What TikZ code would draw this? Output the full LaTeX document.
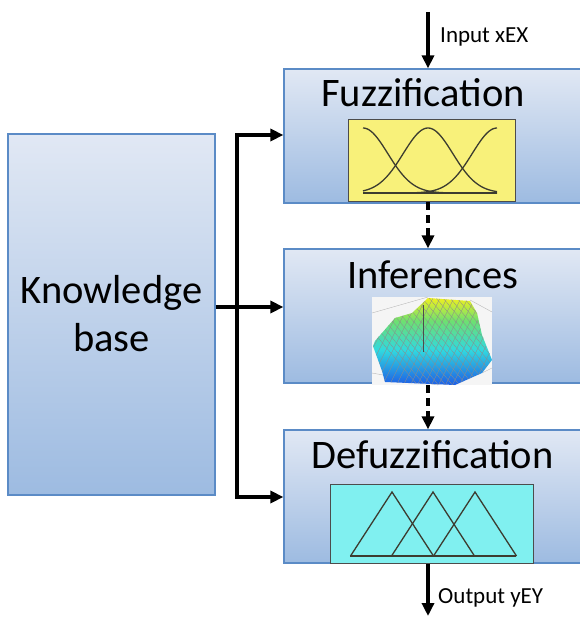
\documentclass[tikz,border=0pt]{standalone}
\usepackage{fontspec}
\setmainfont{Carlito}
\usetikzlibrary{arrows.meta,calc}

\definecolor{boxtop}{HTML}{E1E8F4}
\definecolor{boxbot}{HTML}{9DBBE1}
\definecolor{boxline}{HTML}{5B8BC6}
\definecolor{mfyellow}{HTML}{F8F17A}
\definecolor{mfcyan}{HTML}{80F0F0}
\definecolor{mfline}{HTML}{3C3C30}
\definecolor{sfyellow}{HTML}{EEF020}
\definecolor{sfgreen}{HTML}{6EE070}
\definecolor{sfcyan}{HTML}{30D8E0}
\definecolor{sfblue}{HTML}{1E5FE6}

\pgfdeclareverticalshading{surfshade}{100bp}{color(0bp)=(sfblue); color(25bp)=(sfblue);
  color(45bp)=(sfcyan); color(62bp)=(sfgreen); color(75bp)=(sfyellow); color(100bp)=(sfyellow)}

\tikzstyle{block}=[draw=boxline, line width=1.2pt, top color=boxtop,
                   bottom color=boxbot, inner sep=0pt]
\tikzstyle{title}=[font=\fontsize{40.5}{48}\selectfont, inner sep=0pt]
\tikzstyle{io}=[font=\fontsize{23}{25}\selectfont, anchor=base west, inner sep=0pt]
\tikzstyle{flow}=[line width=3.4pt, -{Triangle[length=13pt,width=12pt]}]
\tikzstyle{chart}=[draw=gray!60!black, line width=1pt, inner sep=0pt]
\tikzstyle{mfcurve}=[mfline, line width=1.3pt]

\begin{document}
\begin{tikzpicture}[x=1pt, y=-1pt, line join=miter]
  \useasboundingbox (0,0) rectangle (579,617);

  % blocks
  \node[block, minimum width=207, minimum height=361] (kb) at (111.5,314.5) {};
  \node[block, minimum width=316, minimum height=134] (fuzz) at (442,136) {};
  \node[block, minimum width=316, minimum height=134] (inf) at (442,316) {};
  \node[block, minimum width=316, minimum height=133] (defuzz) at (442,496.5) {};

  \node[title, align=center] (kbtext) at (111.5,314) {Knowledge\\base};
  \node[title, anchor=base] (fuzztext) at (423,107) {Fuzzification};
  \node[title, anchor=base] (inftext) at (432.5,288) {Inferences};
  \node[title, anchor=base] (defuzztext) at (432.5,468) {Defuzzification};

  % membership functions
  \node[chart, fill=mfyellow, minimum width=167, minimum height=82] (mf) at (431.5,161) {};
  \draw[mfcurve] (363,193) -- (497,193);
  \foreach \c in {363, 428, 497}
    \draw[mfcurve] plot[domain=363:497, samples=70, smooth]
      (\x, {193-65*exp(-((\x-\c)/35.07)^2)});

  % inference surface
  \node[fill=gray!8, minimum width=120, minimum height=88, inner sep=0pt] (surf) at (432,341) {};
  \draw[gray!55] (372,313) -- (428,297);
  \draw[gray!55] (470,300) -- (492,312);
  \draw[gray!55] (372,373) -- (438,385);
  \draw[gray!55] (482,373) -- (492,368);
  \path[shading=surfshade]
    (428,298) -- (470,301) -- (477,313) -- (482,335) -- (492,360) -- (482,373)
    -- (455,385) -- (385,382) -- (382,371) -- (373,346) -- (375,341)
    -- (395,318) -- (412,313) -- cycle;
  \begin{scope}
    \clip (428,298) -- (470,301) -- (477,313) -- (482,335) -- (492,360) -- (482,373)
      -- (455,385) -- (385,382) -- (382,371) -- (373,346) -- (375,341)
      -- (395,318) -- (412,313) -- cycle;
    \foreach \k in {0,...,24} {
      \draw[black!45, line width=0.3pt] (340+7*\k,400) -- (400+7*\k,280);
      \draw[black!45, line width=0.3pt] (330+7*\k,280) -- (430+7*\k,400);
    }
    \draw[black!70, line width=0.5pt] (423,305) -- (423,352);
  \end{scope}

  % output sets
  \node[chart, fill=mfcyan, minimum width=203, minimum height=79] (os) at (431.5,523.5) {};
  \foreach \p in {392, 433, 475}
    \draw[mfcurve] (\p-41.5,556) -- (\p,492) -- (\p+41.5,556);
  \draw[mfcurve] (350,556) -- (516,556);

  % connectors
  \coordinate (inp) at (428,12);
  \coordinate (outp) at (428,616);
  \coordinate (split) at (237,307);
  \coordinate (bustop) at (237,135);
  \coordinate (busbot) at (237,497);

  \draw[flow] (inp) -- (inp |- fuzz.north);
  \draw[flow, dash pattern=on 8pt off 5pt] (inp |- mf.south) -- (inp |- inf.north);
  \draw[flow, dash pattern=on 8pt off 5pt] (inp |- surf.south) -- (inp |- defuzz.north);
  \draw[flow] (inp |- os.south) -- (outp);

  \draw[flow, {Triangle[length=13pt,width=12pt]}-{Triangle[length=13pt,width=12pt]}]
    (bustop -| fuzz.west) -- (bustop) -- (busbot) -- (busbot -| defuzz.west);
  \draw[flow] (split -| kb.east) -- (split -| inf.west);

  \node[io] (inlabel) at (440,43) {Input xEX};
  \node[io] (outlabel) at (438,603) {Output yEY};
\end{tikzpicture}
\end{document}
